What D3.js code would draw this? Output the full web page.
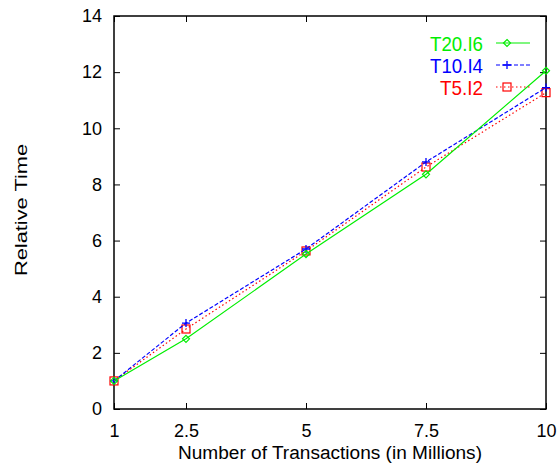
<!DOCTYPE html>
<html>
<head>
<meta charset="utf-8">
<script src="https://cdn.jsdelivr.net/npm/d3@7"></script>
<style>
  body { margin: 0; background: #fff; }
  text { font-family: "Liberation Sans", Arial, sans-serif; }
</style>
</head>
<body>
<div id="grafico"></div>
<script>
// Dados
const transacoes = [1, 2.5, 5, 7.5, 10];
const t20i6 = [1, 2.5, 5.52, 8.36, 12.05];
const t10i4 = [1, 3.06, 5.7, 8.8, 11.45];
const t5i2 = [1, 2.85, 5.63, 8.62, 11.27];
const xTicks = [1, 2.5, 5, 7.5, 10];
const yTicks = [0, 2, 4, 6, 8, 10, 12, 14];

const series = [
  { nome: 'T20.I6', valores: t20i6, cor: '#00ee00', dash: null, marca: 'diamond', larg: 53 },
  { nome: 'T10.I4', valores: t10i4, cor: '#0000ff', dash: '4,2', marca: 'plus', larg: 53 },
  { nome: 'T5.I2', valores: t5i2, cor: '#ff0000', dash: '1.5,2.5', marca: 'square', larg: 43 }
];

const largura = 560;
const altura = 470;
const margem = { top: 16, right: 14, bottom: 61, left: 114 };
const w = largura - margem.left - margem.right;
const h = altura - margem.top - margem.bottom;

const svg = d3
  .select('#grafico')
  .append('svg')
  .attr('width', largura)
  .attr('height', altura)
  .append('g')
  .attr('transform', `translate(${margem.left},${margem.top})`);

const x = d3.scaleLinear().domain([1, 10]).range([0, w]);
const y = d3.scaleLinear().domain([0, 14]).range([h, 0]);

// Eixos (ticks para dentro, espelhados)
svg.append('g').attr('transform', `translate(0,${h})`)
  .call(d3.axisBottom(x).tickValues(xTicks).tickSize(-6).tickPadding(15).tickFormat(d3.format('')));
svg.append('g')
  .call(d3.axisTop(x).tickValues(xTicks).tickSize(-6).tickFormat(''));
svg.append('g')
  .call(d3.axisLeft(y).tickValues(yTicks).tickSize(-6).tickPadding(12));
svg.append('g').attr('transform', `translate(${w},0)`)
  .call(d3.axisRight(y).tickValues(yTicks).tickSize(-6).tickFormat(''));

svg.selectAll('.domain').remove();
svg.selectAll('.tick line').attr('stroke', '#000').attr('stroke-width', 1);
svg.selectAll('.tick text').attr('font-size', 18).attr('fill', '#000')
  .attr('font-family', '"Liberation Sans", Arial, sans-serif');

svg.append('rect')
  .attr('width', w).attr('height', h)
  .attr('fill', 'none').attr('stroke', '#000').attr('stroke-width', 1.5);

// Títulos dos eixos
svg.append('text')
  .attr('x', 330 - margem.left).attr('y', h + 50)
  .attr('text-anchor', 'middle').attr('font-size', 18)
  .attr('textLength', 304).attr('lengthAdjust', 'spacingAndGlyphs')
  .text('Number of Transactions (in Millions)');
svg.append('text')
  .attr('transform', `translate(${27 - margem.left},${210 - margem.top}) rotate(-90)`)
  .attr('text-anchor', 'middle').attr('font-size', 17)
  .attr('textLength', 132).attr('lengthAdjust', 'spacingAndGlyphs')
  .text('Relative Time');

function marcador(g, tipo, cor) {
  if (tipo === 'diamond') {
    g.append('path').attr('d', 'M0,-3.5L3.5,0L0,3.5L-3.5,0Z')
      .attr('fill', 'none').attr('stroke', cor).attr('stroke-width', 1.2);
  } else if (tipo === 'plus') {
    g.append('path').attr('d', 'M-4,0H4M0,-4V4')
      .attr('stroke', cor).attr('stroke-width', 1.3);
  } else {
    g.append('rect').attr('x', -4).attr('y', -4).attr('width', 8).attr('height', 8)
      .attr('fill', 'none').attr('stroke', cor).attr('stroke-width', 1.2);
  }
}

const linha = d3.line()
  .x((d, i) => x(transacoes[i]))
  .y((d) => y(d));

// Desenha na ordem inversa para o verde ficar por cima
series.slice().reverse().forEach((s) => {
  svg.append('path').datum(s.valores)
    .attr('d', linha)
    .attr('fill', 'none')
    .attr('stroke', s.cor)
    .attr('stroke-width', 1.2)
    .attr('stroke-dasharray', s.dash);
  s.valores.forEach((v, i) => {
    const g = svg.append('g').attr('transform', `translate(${x(transacoes[i])},${y(v)})`);
    marcador(g, s.marca, s.cor);
  });
});

// Legenda
const legenda = svg.append('g');
series.forEach((s, i) => {
  const ly = 27 + i * 22;
  legenda.append('text')
    .attr('x', 369).attr('y', ly + 7.5)
    .attr('text-anchor', 'end').attr('font-size', 21)
    .attr('textLength', s.larg).attr('lengthAdjust', 'spacingAndGlyphs')
    .attr('fill', s.cor)
    .text(s.nome);
  legenda.append('line')
    .attr('x1', 382).attr('x2', 416).attr('y1', ly).attr('y2', ly)
    .attr('stroke', s.cor).attr('stroke-width', 1.2)
    .attr('stroke-dasharray', s.dash);
  marcador(legenda.append('g').attr('transform', `translate(393,${ly})`), s.marca, s.cor);
});
</script>
</body>
</html>
